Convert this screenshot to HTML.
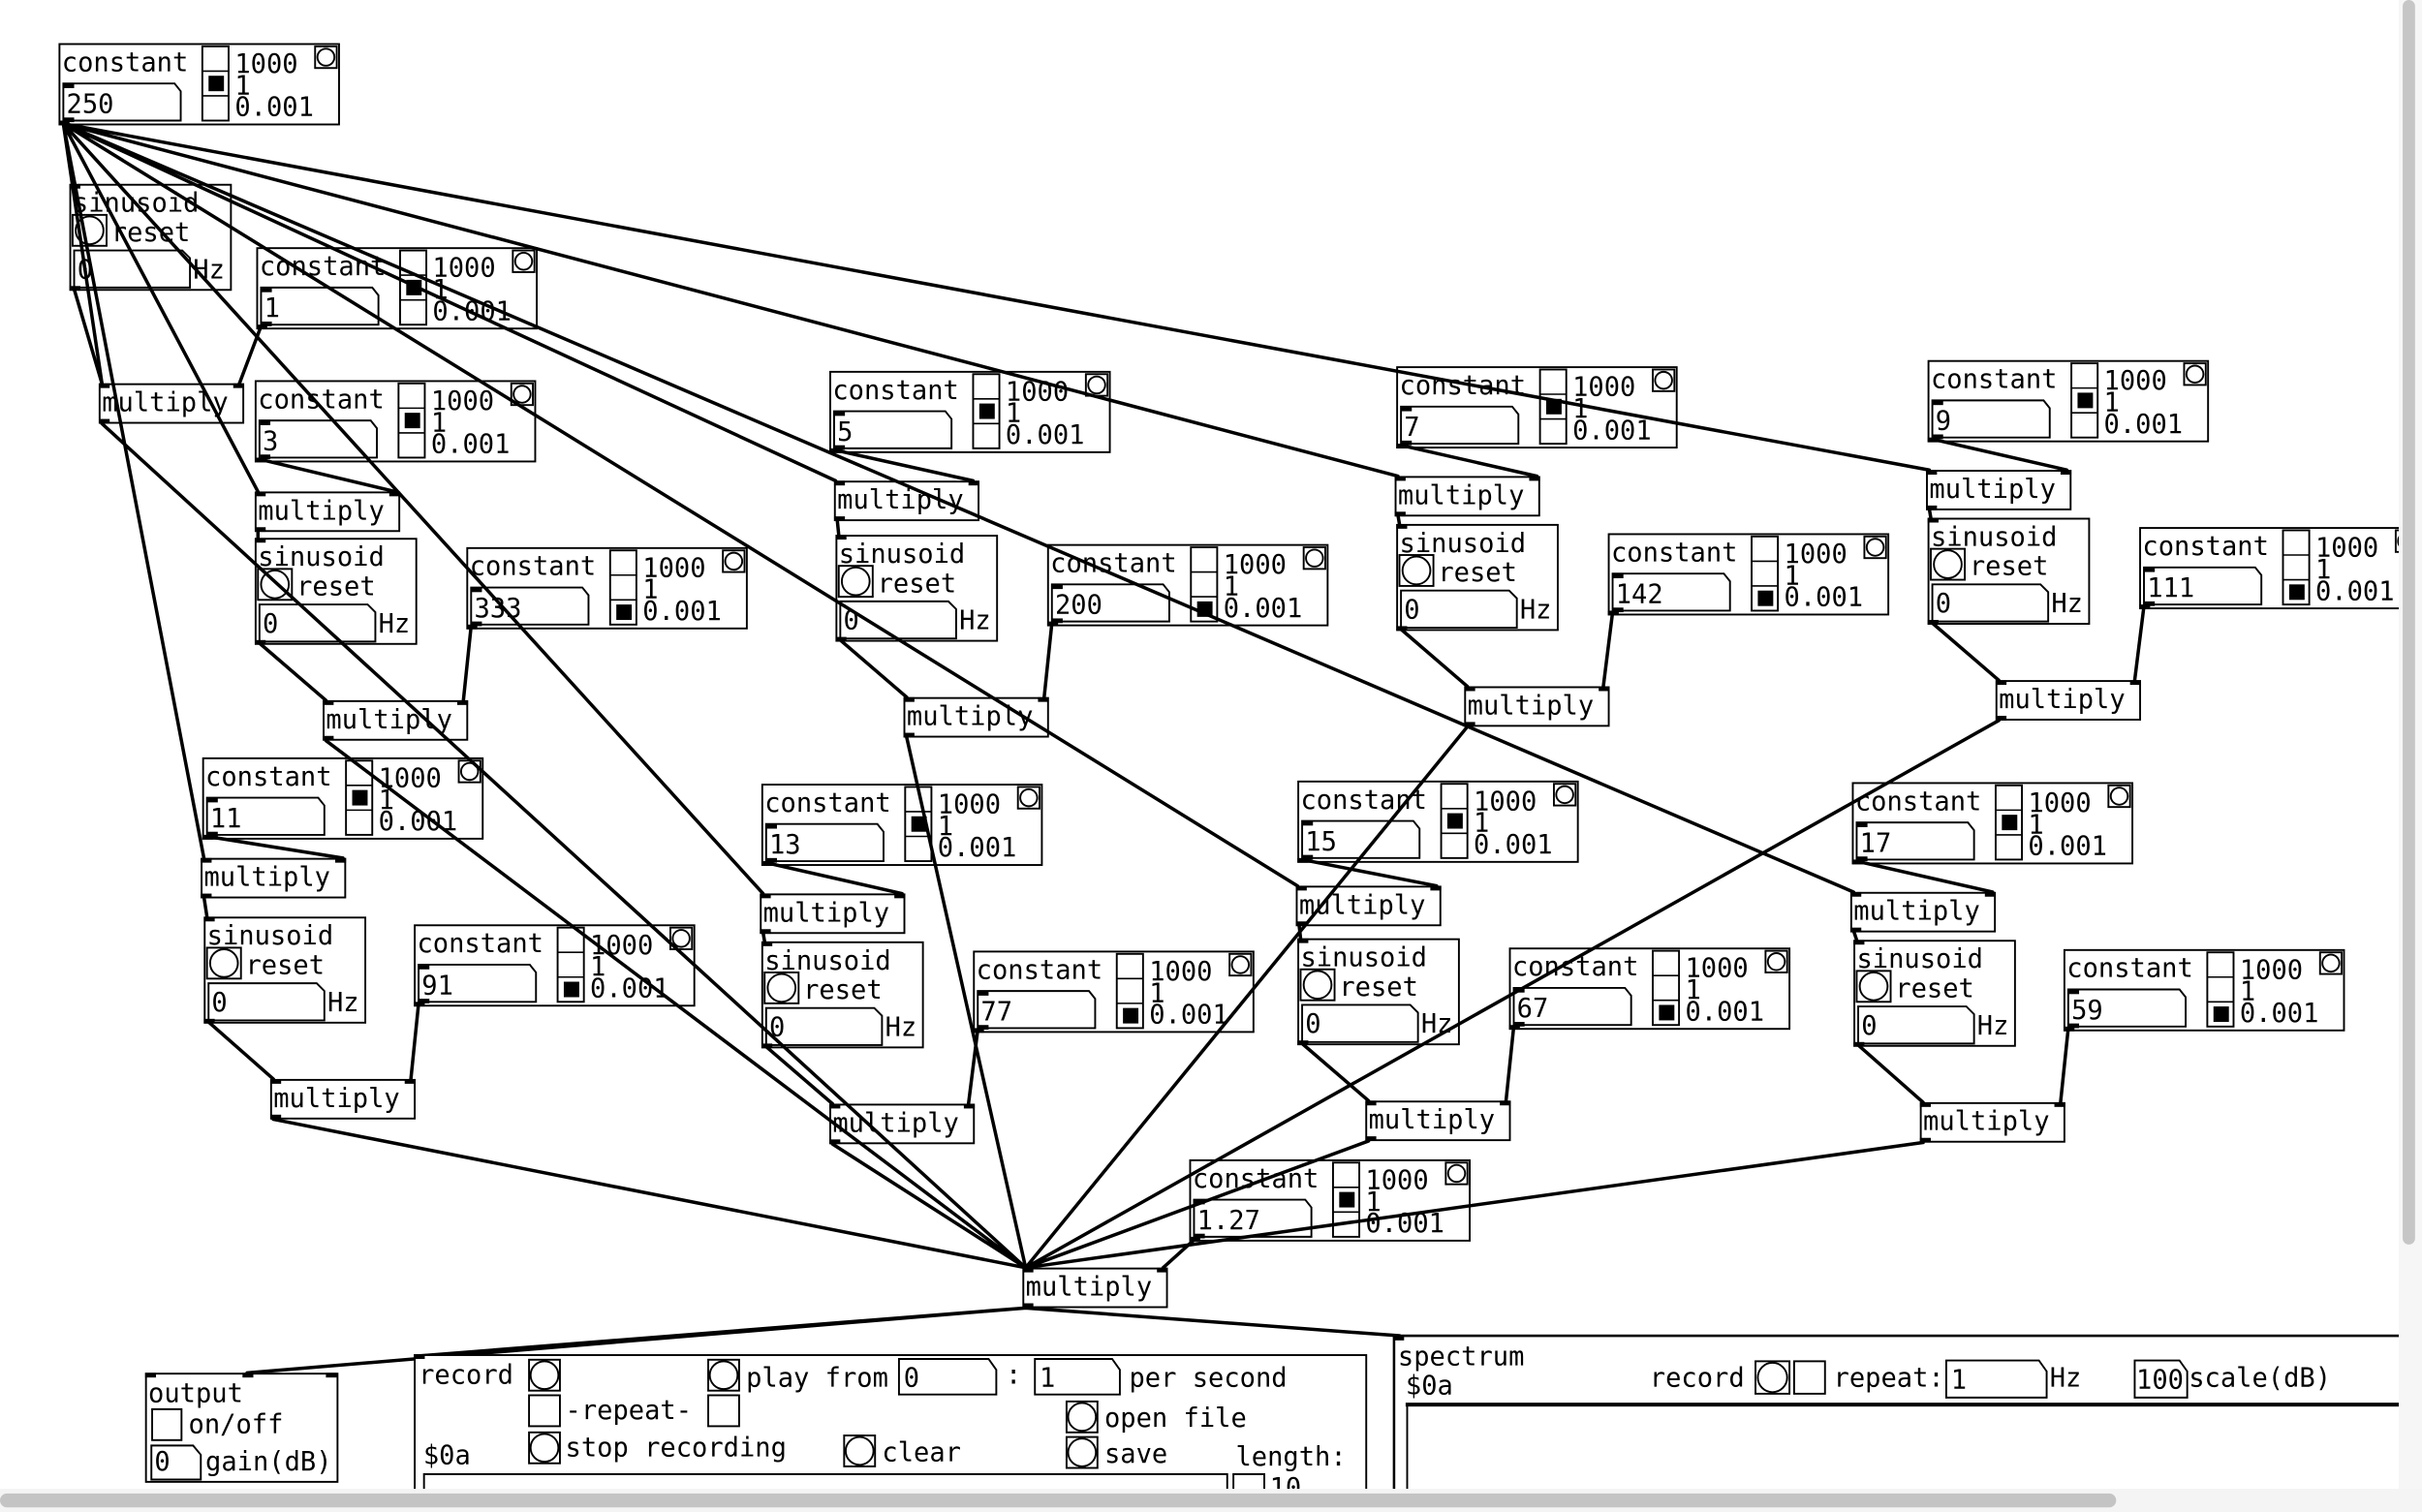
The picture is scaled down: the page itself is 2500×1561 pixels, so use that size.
<!DOCTYPE html>
<html><head><meta charset="utf-8"><style>
html,body{margin:0;padding:0;background:#fff;overflow:hidden}
svg{display:block}
text{font-family:"DejaVu Sans Mono","Liberation Mono",monospace;font-size:17px;fill:#000}
</style></head><body>
<svg width="2500" height="1561" viewBox="0 0 1568 978" preserveAspectRatio="none" xmlns="http://www.w3.org/2000/svg">
<defs>
<g id="C">
<rect x="0.5" y="0.5" width="181" height="52" fill="#fff" stroke="#000" stroke-width="1.2"/>
<path d="M3 26H75L79 31V50H3Z" fill="#fff" stroke="#000" stroke-width="1.2"/>
<rect x="3" y="26" width="7" height="3"/><rect x="3" y="48" width="7" height="3"/>
<rect x="93" y="2" width="17" height="48" fill="#fff" stroke="#000" stroke-width="1.2"/>
<path d="M93 18H110M93 34H110" stroke="#000" stroke-width="1"/>
<rect x="166" y="2" width="14" height="14" fill="#fff" stroke="#000" stroke-width="1.2"/>
<circle cx="173" cy="9" r="5.5" fill="#fff" stroke="#000" stroke-width="1.2"/>
<rect x="0" y="50" width="7" height="3"/>
</g>
<g id="S">
<rect x="0.5" y="0.5" width="104" height="68" fill="#fff" stroke="#000" stroke-width="1.2"/>
<rect x="2" y="20" width="22" height="20" fill="#fff" stroke="#000" stroke-width="1.2"/>
<circle cx="13" cy="30" r="9" fill="#fff" stroke="#000" stroke-width="1.2"/>
<path d="M3 43H73L78 48V67H3Z" fill="#fff" stroke="#000" stroke-width="1.2"/>
<rect x="0" y="0" width="7" height="3"/><rect x="0" y="66" width="7" height="3"/>
</g>
<g id="M">
<rect x="0.5" y="0.5" width="93" height="25" fill="#fff" stroke="#000" stroke-width="1.2"/>
<rect x="0" y="0" width="7" height="3"/><rect x="87" y="0" width="7" height="3"/><rect x="0" y="23" width="7" height="3"/>
</g>
</defs>

<!-- constants -->
<g transform="translate(38,28)"><use href="#C"/><rect x="97" y="21" width="10" height="10"/><text x="2" y="18">constant</text><text x="5" y="45">250</text><text x="114" y="19">1000</text><text x="114" y="33">1</text><text x="114" y="47">0.001</text></g>
<g transform="translate(166,160)"><use href="#C"/><rect x="97" y="21" width="10" height="10"/><text x="2" y="18">constant</text><text x="5" y="45">1</text><text x="114" y="19">1000</text><text x="114" y="33">1</text><text x="114" y="47">0.001</text></g>
<g transform="translate(165,246)"><use href="#C"/><rect x="97" y="21" width="10" height="10"/><text x="2" y="18">constant</text><text x="5" y="45">3</text><text x="114" y="19">1000</text><text x="114" y="33">1</text><text x="114" y="47">0.001</text></g>
<g transform="translate(537,240)"><use href="#C"/><rect x="97" y="21" width="10" height="10"/><text x="2" y="18">constant</text><text x="5" y="45">5</text><text x="114" y="19">1000</text><text x="114" y="33">1</text><text x="114" y="47">0.001</text></g>
<g transform="translate(904,237)"><use href="#C"/><rect x="97" y="21" width="10" height="10"/><text x="2" y="18">constant</text><text x="5" y="45">7</text><text x="114" y="19">1000</text><text x="114" y="33">1</text><text x="114" y="47">0.001</text></g>
<g transform="translate(1248,233)"><use href="#C"/><rect x="97" y="21" width="10" height="10"/><text x="2" y="18">constant</text><text x="5" y="45">9</text><text x="114" y="19">1000</text><text x="114" y="33">1</text><text x="114" y="47">0.001</text></g>
<g transform="translate(302,354)"><use href="#C"/><rect x="97" y="37" width="10" height="10"/><text x="2" y="18">constant</text><text x="5" y="45">333</text><text x="114" y="19">1000</text><text x="114" y="33">1</text><text x="114" y="47">0.001</text></g>
<g transform="translate(678,352)"><use href="#C"/><rect x="97" y="37" width="10" height="10"/><text x="2" y="18">constant</text><text x="5" y="45">200</text><text x="114" y="19">1000</text><text x="114" y="33">1</text><text x="114" y="47">0.001</text></g>
<g transform="translate(1041,345)"><use href="#C"/><rect x="97" y="37" width="10" height="10"/><text x="2" y="18">constant</text><text x="5" y="45">142</text><text x="114" y="19">1000</text><text x="114" y="33">1</text><text x="114" y="47">0.001</text></g>
<g transform="translate(1385,341)"><use href="#C"/><rect x="97" y="37" width="10" height="10"/><text x="2" y="18">constant</text><text x="5" y="45">111</text><text x="114" y="19">1000</text><text x="114" y="33">1</text><text x="114" y="47">0.001</text></g>
<g transform="translate(131,490)"><use href="#C"/><rect x="97" y="21" width="10" height="10"/><text x="2" y="18">constant</text><text x="5" y="45">11</text><text x="114" y="19">1000</text><text x="114" y="33">1</text><text x="114" y="47">0.001</text></g>
<g transform="translate(493,507)"><use href="#C"/><rect x="97" y="21" width="10" height="10"/><text x="2" y="18">constant</text><text x="5" y="45">13</text><text x="114" y="19">1000</text><text x="114" y="33">1</text><text x="114" y="47">0.001</text></g>
<g transform="translate(840,505)"><use href="#C"/><rect x="97" y="21" width="10" height="10"/><text x="2" y="18">constant</text><text x="5" y="45">15</text><text x="114" y="19">1000</text><text x="114" y="33">1</text><text x="114" y="47">0.001</text></g>
<g transform="translate(1199,506)"><use href="#C"/><rect x="97" y="21" width="10" height="10"/><text x="2" y="18">constant</text><text x="5" y="45">17</text><text x="114" y="19">1000</text><text x="114" y="33">1</text><text x="114" y="47">0.001</text></g>
<g transform="translate(268,598)"><use href="#C"/><rect x="97" y="37" width="10" height="10"/><text x="2" y="18">constant</text><text x="5" y="45">91</text><text x="114" y="19">1000</text><text x="114" y="33">1</text><text x="114" y="47">0.001</text></g>
<g transform="translate(630,615)"><use href="#C"/><rect x="97" y="37" width="10" height="10"/><text x="2" y="18">constant</text><text x="5" y="45">77</text><text x="114" y="19">1000</text><text x="114" y="33">1</text><text x="114" y="47">0.001</text></g>
<g transform="translate(977,613)"><use href="#C"/><rect x="97" y="37" width="10" height="10"/><text x="2" y="18">constant</text><text x="5" y="45">67</text><text x="114" y="19">1000</text><text x="114" y="33">1</text><text x="114" y="47">0.001</text></g>
<g transform="translate(1336,614)"><use href="#C"/><rect x="97" y="37" width="10" height="10"/><text x="2" y="18">constant</text><text x="5" y="45">59</text><text x="114" y="19">1000</text><text x="114" y="33">1</text><text x="114" y="47">0.001</text></g>
<g transform="translate(770,750)"><use href="#C"/><rect x="97" y="21" width="10" height="10"/><text x="2" y="18">constant</text><text x="5" y="45">1.27</text><text x="114" y="19">1000</text><text x="114" y="33">1</text><text x="114" y="47">0.001</text></g>

<!-- sinusoids -->
<g transform="translate(45,119)"><use href="#S"/><text x="2" y="18">sinusoid</text><text x="27" y="37">reset</text><text x="5" y="61">0</text><text x="80" y="61">Hz</text></g>
<g transform="translate(165,348)"><use href="#S"/><text x="2" y="18">sinusoid</text><text x="27" y="37">reset</text><text x="5" y="61">0</text><text x="80" y="61">Hz</text></g>
<g transform="translate(541,346)"><use href="#S"/><text x="2" y="18">sinusoid</text><text x="27" y="37">reset</text><text x="5" y="61">0</text><text x="80" y="61">Hz</text></g>
<g transform="translate(904,339)"><use href="#S"/><text x="2" y="18">sinusoid</text><text x="27" y="37">reset</text><text x="5" y="61">0</text><text x="80" y="61">Hz</text></g>
<g transform="translate(1248,335)"><use href="#S"/><text x="2" y="18">sinusoid</text><text x="27" y="37">reset</text><text x="5" y="61">0</text><text x="80" y="61">Hz</text></g>
<g transform="translate(132,593)"><use href="#S"/><text x="2" y="18">sinusoid</text><text x="27" y="37">reset</text><text x="5" y="61">0</text><text x="80" y="61">Hz</text></g>
<g transform="translate(493,609)"><use href="#S"/><text x="2" y="18">sinusoid</text><text x="27" y="37">reset</text><text x="5" y="61">0</text><text x="80" y="61">Hz</text></g>
<g transform="translate(840,607)"><use href="#S"/><text x="2" y="18">sinusoid</text><text x="27" y="37">reset</text><text x="5" y="61">0</text><text x="80" y="61">Hz</text></g>
<g transform="translate(1200,608)"><use href="#S"/><text x="2" y="18">sinusoid</text><text x="27" y="37">reset</text><text x="5" y="61">0</text><text x="80" y="61">Hz</text></g>

<!-- multiplies -->
<g transform="translate(64,248)"><use href="#M"/><text x="2" y="18">multiply</text></g>
<g transform="translate(165,318)"><use href="#M"/><text x="2" y="18">multiply</text></g>
<g transform="translate(540,311)"><use href="#M"/><text x="2" y="18">multiply</text></g>
<g transform="translate(903,308)"><use href="#M"/><text x="2" y="18">multiply</text></g>
<g transform="translate(1247,304)"><use href="#M"/><text x="2" y="18">multiply</text></g>
<g transform="translate(209,453)"><use href="#M"/><text x="2" y="18">multiply</text></g>
<g transform="translate(585,451)"><use href="#M"/><text x="2" y="18">multiply</text></g>
<g transform="translate(948,444)"><use href="#M"/><text x="2" y="18">multiply</text></g>
<g transform="translate(1292,440)"><use href="#M"/><text x="2" y="18">multiply</text></g>
<g transform="translate(130,555)"><use href="#M"/><text x="2" y="18">multiply</text></g>
<g transform="translate(492,578)"><use href="#M"/><text x="2" y="18">multiply</text></g>
<g transform="translate(839,573)"><use href="#M"/><text x="2" y="18">multiply</text></g>
<g transform="translate(1198,577)"><use href="#M"/><text x="2" y="18">multiply</text></g>
<g transform="translate(175,698)"><use href="#M"/><text x="2" y="18">multiply</text></g>
<g transform="translate(537,714)"><use href="#M"/><text x="2" y="18">multiply</text></g>
<g transform="translate(884,712)"><use href="#M"/><text x="2" y="18">multiply</text></g>
<g transform="translate(1243,713)"><use href="#M"/><text x="2" y="18">multiply</text></g>
<g transform="translate(662,820)"><use href="#M"/><text x="2" y="18">multiply</text></g>

<!-- connections -->
<g stroke="#000" stroke-width="2.2" fill="none" stroke-linecap="round">
<path d="M41 80L66 248M41 80L132 555M41 80L167 318M41 80L494 578M41 80L541 311M41 80L840 573M41 80L905 308M41 80L1249 304M41 80L1200 577"/>
<path d="M169 211L155 248M168 297L256 318M540 291L630 311M907 288L995 308M1251 284L1338 304M305 405L300 453M681 403L676 451M1044 396L1038 444M1388 392L1382 440M134 541L222 555M496 558L584 578M843 556L930 573M1202 557L1290 577M271 649L266 698M633 666L627 714M980 664L975 712M1339 665L1334 713M773 802L753 820"/>
<path d="M48 187L66 248M168 416L211 453M544 414L587 451M907 407L950 444M1251 403L1294 440M135 661L177 698M496 677L539 714M843 675L886 712M1203 676L1245 713"/>
<path d="M167 343L167 348M542 336L543 346M905 333L906 339M1249 329L1250 335M132 580L134 593M494 603L495 609M841 598L842 607M1200 602L1202 608"/>
<path d="M66 274L664 820M211 479L664 820M587 477L664 820M950 470L664 820M1294 466L664 820M177 724L664 820M539 740L664 820M886 738L664 820M1245 739L664 820"/>
<path d="M664 846L160 888M664 846L272 877M664 846L906 864"/>
</g>

<!-- output -->
<rect x="94.5" y="888.5" width="124" height="70" fill="#fff" stroke="#000" stroke-width="1.2"/>
<rect x="94" y="888" width="7" height="3"/><rect x="157" y="888" width="7" height="3"/><rect x="211" y="888" width="7" height="3"/>
<text x="96" y="907">output</text>
<rect x="98.5" y="911.5" width="19" height="20" fill="#fff" stroke="#000" stroke-width="1.2"/>
<text x="122" y="927">on/off</text>
<path d="M98 935H125L130 941V957H98Z" fill="#fff" stroke="#000" stroke-width="1.2"/>
<text x="100" y="951">0</text><text x="133" y="951">gain(dB)</text>

<!-- record -->
<rect x="268.5" y="876.5" width="616" height="110" fill="#fff" stroke="#000" stroke-width="1.2"/>
<rect x="268" y="876" width="7" height="3"/>
<text x="271" y="895">record</text>
<rect x="342.5" y="879.5" width="20" height="20" fill="#fff" stroke="#000" stroke-width="1.2"/><circle cx="352.5" cy="889.5" r="9" fill="#fff" stroke="#000" stroke-width="1.2"/>
<rect x="458.5" y="879.5" width="20" height="20" fill="#fff" stroke="#000" stroke-width="1.2"/><circle cx="468.5" cy="889.5" r="9" fill="#fff" stroke="#000" stroke-width="1.2"/>
<text x="483" y="897">play from</text>
<path d="M582 879H640L645 886V902H582Z" fill="#fff" stroke="#000" stroke-width="1.2"/><text x="585" y="897">0</text>
<text x="651" y="895">:</text>
<path d="M670 879H720L725 886V902H670Z" fill="#fff" stroke="#000" stroke-width="1.2"/><text x="673" y="897">1</text>
<text x="731" y="897">per second</text>
<rect x="342.5" y="902.5" width="20" height="20" fill="#fff" stroke="#000" stroke-width="1.2"/>
<text x="366" y="918">-repeat-</text>
<rect x="458.5" y="902.5" width="20" height="20" fill="#fff" stroke="#000" stroke-width="1.2"/>
<rect x="690.5" y="906.5" width="20" height="20" fill="#fff" stroke="#000" stroke-width="1.2"/><circle cx="700.5" cy="916.5" r="9" fill="#fff" stroke="#000" stroke-width="1.2"/>
<text x="715" y="923">open file</text>
<text x="274" y="947">$0a</text>
<rect x="342.5" y="926.5" width="20" height="20" fill="#fff" stroke="#000" stroke-width="1.2"/><circle cx="352.5" cy="936.5" r="9" fill="#fff" stroke="#000" stroke-width="1.2"/>
<text x="366" y="942">stop recording</text>
<rect x="546.5" y="928.5" width="20" height="20" fill="#fff" stroke="#000" stroke-width="1.2"/><circle cx="556.5" cy="938.5" r="9" fill="#fff" stroke="#000" stroke-width="1.2"/>
<text x="571" y="945">clear</text>
<rect x="690.5" y="929.5" width="20" height="20" fill="#fff" stroke="#000" stroke-width="1.2"/><circle cx="700.5" cy="939.5" r="9" fill="#fff" stroke="#000" stroke-width="1.2"/>
<text x="715" y="946">save</text>
<text x="800" y="948">length:</text>
<rect x="274.5" y="953.5" width="520" height="40" fill="#fff" stroke="#000" stroke-width="1.2"/>
<rect x="798.5" y="953.5" width="20" height="20" fill="#fff" stroke="#000" stroke-width="1.2"/>
<text x="822" y="968">10</text>

<!-- spectrum -->
<path d="M902 864H1568M902.5 864V978" stroke="#000" stroke-width="1.6" fill="none"/>
<rect x="902" y="864" width="7" height="3"/>
<text x="905" y="883">spectrum</text>
<text x="910" y="902">$0a</text>
<text x="1068" y="897">record</text>
<rect x="1136.5" y="880.5" width="22" height="21" fill="#fff" stroke="#000" stroke-width="1.2"/><circle cx="1147.5" cy="891" r="9.5" fill="#fff" stroke="#000" stroke-width="1.2"/>
<rect x="1161.5" y="880.5" width="20" height="21" fill="#fff" stroke="#000" stroke-width="1.2"/>
<text x="1187" y="897">repeat:</text>
<path d="M1260 880H1320L1325 887V904H1260Z" fill="#fff" stroke="#000" stroke-width="1.2"/><text x="1263" y="898">1</text>
<text x="1327" y="897">Hz</text>
<path d="M1382 880H1411L1416 887V904H1382Z" fill="#fff" stroke="#000" stroke-width="1.2"/><text x="1383" y="898">100</text>
<text x="1417" y="897">scale(dB)</text>
<path d="M910 908.5H1568" stroke="#000" stroke-width="2.5"/>
<path d="M911 908V978" stroke="#000" stroke-width="1.2"/>

<!-- scrollbars -->
<rect x="1553" y="0" width="15" height="963" fill="#f6f6f6"/>
<rect x="1555.5" y="0" width="8" height="805" rx="4" fill="#c6c6c6"/>
<rect x="0" y="963" width="1568" height="15" fill="#f4f4f4"/>
<rect x="0" y="966" width="1370" height="9" rx="4.5" fill="#c4c4c4"/>
</svg>
</body></html>
